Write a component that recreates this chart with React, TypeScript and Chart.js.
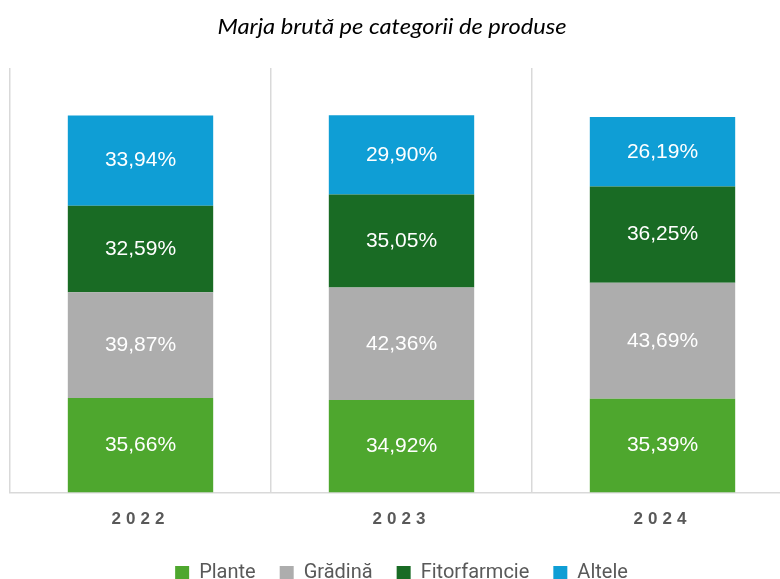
import React, { useEffect, useRef } from "react";
import { Chart, registerables } from "chart.js";

Chart.register(...registerables);

const categories = ["2022", "2023", "2024"];
const plante = [35.66, 34.92, 35.39];
const gradina = [39.87, 42.36, 43.69];
const fitofarmacie = [32.59, 35.05, 36.25];
const altele = [33.94, 29.9, 26.19];
const seriesNames = ["Plante", "Grădină", "Fitorfarmcie", "Altele"];
const seriesColors = ["#4EA72E", "#ADADAD", "#196B24", "#0F9ED5"];
const titleText = "Marja brută pe categorii de produse";

const labelPlugin = {
  id: "barLabels",
  afterDatasetsDraw(chart: any) {
    const ctx = chart.ctx;
    ctx.save();
    ctx.font = "21px 'Liberation Sans', Arial, sans-serif";
    ctx.fillStyle = "#FFFFFF";
    ctx.textAlign = "center";
    ctx.textBaseline = "middle";
    chart.data.datasets.forEach((ds: any, di: number) => {
      const meta = chart.getDatasetMeta(di);
      meta.data.forEach((el: any, i: number) => {
        const v = ds.data[i];
        const y = (el.y + el.base) / 2;
        ctx.fillText(v.toFixed(2).replace(".", ",") + "%", el.x, y);
      });
    });
    ctx.restore();
  },
};

const titlePlugin = {
  id: "customTitle",
  afterDraw(chart: any) {
    const ctx = chart.ctx;
    ctx.save();
    ctx.font = "italic 21px Lato, 'Open Sans', sans-serif";
    ctx.fillStyle = "#000000";
    ctx.textAlign = "center";
    ctx.textBaseline = "alphabetic";
    const w = ctx.measureText(titleText).width;
    const sx = 349 / w;
    ctx.translate(392, 34);
    ctx.scale(sx, 1);
    ctx.fillText(titleText, 0, 0);
    ctx.restore();
  },
};

const spacingPlugin = {
  id: "tickSpacing",
  afterUpdate(chart: any) {
    const s = chart.scales.x;
    if (s && !s.__spaced) {
      const orig = s.drawLabels.bind(s);
      s.drawLabels = (area: any) => {
        const ctx = chart.ctx;
        ctx.save();
        (ctx as any).letterSpacing = "5px";
        orig(area);
        ctx.restore();
      };
      s.__spaced = true;
    }
  },
};

export default function App() {
  const ref = useRef<HTMLCanvasElement | null>(null);
  useEffect(() => {
    if (!ref.current) return;
    const data = [plante, gradina, fitofarmacie, altele];
    const chart = new Chart(ref.current, {
      type: "bar",
      data: {
        labels: categories,
        datasets: data.map((d, i) => ({
          label: seriesNames[i],
          data: d,
          backgroundColor: seriesColors[i],
          borderWidth: 0,
          barPercentage: 0.557,
          categoryPercentage: 1,
        })),
      },
      options: {
        animation: false,
        responsive: false,
        maintainAspectRatio: false,
        layout: { padding: { left: 10, right: 7, top: 68, bottom: -14 } },
        plugins: {
          title: { display: false },
          legend: {
            position: "bottom",
            labels: {
              color: "#595959",
              font: { family: "Roboto, sans-serif", size: 20 },
              boxWidth: 14,
              boxHeight: 14,
              padding: 24,
            },
          },
          tooltip: { enabled: false },
        },
        scales: {
          x: {
            stacked: true,
            grid: { display: true, offset: true, color: "#D9D9D9", lineWidth: 1.5, drawTicks: false },
            border: { display: true, color: "#D9D9D9", width: 1.5 },
            ticks: {
              color: "#595959",
              padding: 17,
              font: { family: "'Liberation Sans', Arial, sans-serif", size: 17, weight: "bold" },
            },
            afterFit: (scale: any) => {
              scale.height -= 8;
            },
          },
          y: {
            stacked: true,
            min: 0,
            max: 160,
            display: false,
          },
        },
      },
      plugins: [labelPlugin, spacingPlugin, titlePlugin],
    });
    return () => chart.destroy();
  }, []);
  return (
    <div style={{ position: "fixed", left: 0, top: 0, width: 780, height: 579, overflow: "hidden", background: "#fff" }}>
      <canvas ref={ref} width={800} height={579} style={{ display: "block" }} />
    </div>
  );
}
